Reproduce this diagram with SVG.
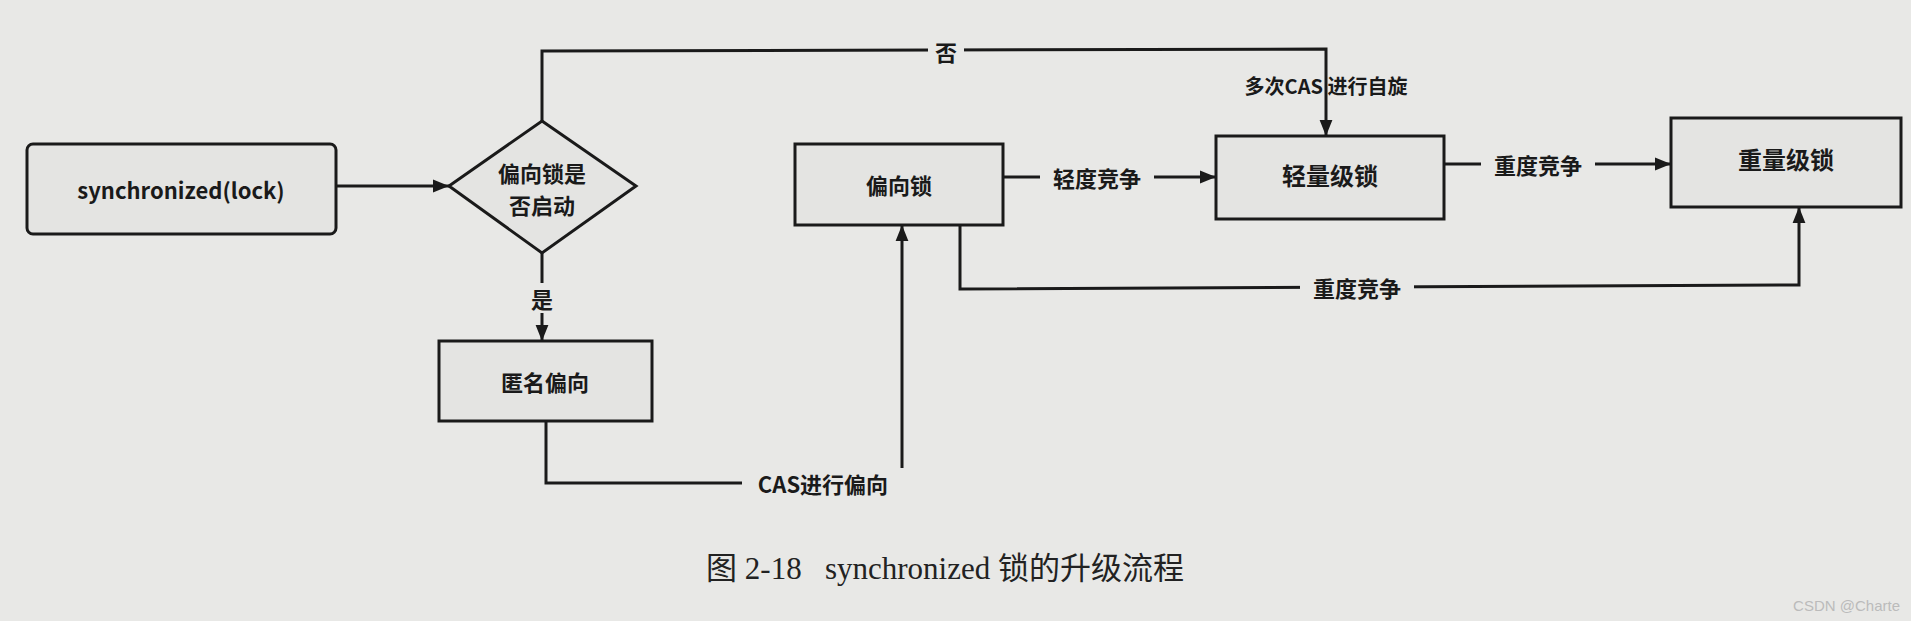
<svg xmlns="http://www.w3.org/2000/svg" width="1911" height="621" viewBox="0 0 1911 621">
<defs>
<marker id="a" viewBox="0 0 10 10" refX="10" refY="5" markerWidth="24" markerHeight="16" markerUnits="userSpaceOnUse" orient="auto"><path d="M0,1 L10,5 L0,9 z" fill="#1a1a1a"/></marker>
</defs>
<style>
.n{fill:#e4e4e2;stroke:#1a1a1a;stroke-width:3}
.t{font-family:"Noto Sans CJK SC","Noto Sans",sans-serif;font-size:22px;font-weight:bold;fill:#1a1a1a;text-anchor:middle;dominant-baseline:central}
.c{fill:none;stroke:#1a1a1a;stroke-width:3}
.lb{fill:#e8e8e6}
</style>
<rect width="1911" height="621" fill="#e8e8e6"/>
<g id="connectors">
<path class="c" d="M336,186 L449,186" marker-end="url(#a)"/>
<path class="c" d="M542,121 L542,51 L1326,49 L1326,136" marker-end="url(#a)"/>
<path class="c" d="M542,253 L542,341" marker-end="url(#a)"/>
<path class="c" d="M546,421 L546,483 L902,483 L902,225" stroke-width="2" marker-end="url(#a)"/>
<path class="c" d="M1003,177 L1216,177" marker-end="url(#a)"/>
<path class="c" d="M1444,164 L1671,164" marker-end="url(#a)"/>
<path class="c" d="M960,225 L960,289 L1799,285 L1799,207" stroke-width="4" marker-end="url(#a)"/>
<rect class="lb" x="928" y="36" width="36" height="30"/><text class="t" x="946" y="51">否</text>
<text class="t" x="1326" y="85" style="font-size:20px">多次CAS 进行自旋</text>
<rect class="lb" x="528" y="283" width="28" height="30"/><text class="t" x="542" y="298">是</text>
<rect class="lb" x="742" y="468" width="162" height="30"/><text class="t" x="823" y="483">CAS进行偏向</text>
<rect class="lb" x="1040" y="162" width="114" height="30"/><text class="t" x="1097" y="177">轻度竞争</text>
<rect class="lb" x="1481" y="149" width="114" height="30"/><text class="t" x="1538" y="164">重度竞争</text>
<rect class="lb" x="1300" y="272" width="114" height="30"/><text class="t" x="1357" y="287">重度竞争</text>
</g>
<g id="sync"><rect class="n" x="27" y="144" width="309" height="90" rx="6"/><text class="t" x="181" y="189">synchronized(lock)</text></g>
<g id="decide"><polygon class="n" points="542,121 636,186 542,253 449,186"/><text class="t" x="542" y="172">偏向锁是</text><text class="t" x="542" y="204">否启动</text></g>
<g id="anon"><rect class="n" x="439" y="341" width="213" height="80"/><text class="t" x="545" y="381">匿名偏向</text></g>
<g id="biased"><rect class="n" x="795" y="144" width="208" height="81"/><text class="t" x="899" y="184">偏向锁</text></g>
<g id="light"><rect class="n" x="1216" y="136" width="228" height="83"/><text class="t" x="1330" y="174" style="font-size:24px">轻量级锁</text></g>
<g id="heavy"><rect class="n" x="1671" y="118" width="230" height="89"/><text class="t" x="1786" y="158" style="font-size:24px">重量级锁</text></g>
<text x="945" y="579" xml:space="preserve" style="font-family:'Liberation Serif','Noto Sans CJK SC',serif;font-size:31px;fill:#222;text-anchor:middle;white-space:pre">图 2-18   synchronized 锁的升级流程</text>
<text x="1900" y="611" style="font-family:'Liberation Sans',sans-serif;font-size:15px;fill:#bbb;text-anchor:end">CSDN @Charte</text>
</svg>
